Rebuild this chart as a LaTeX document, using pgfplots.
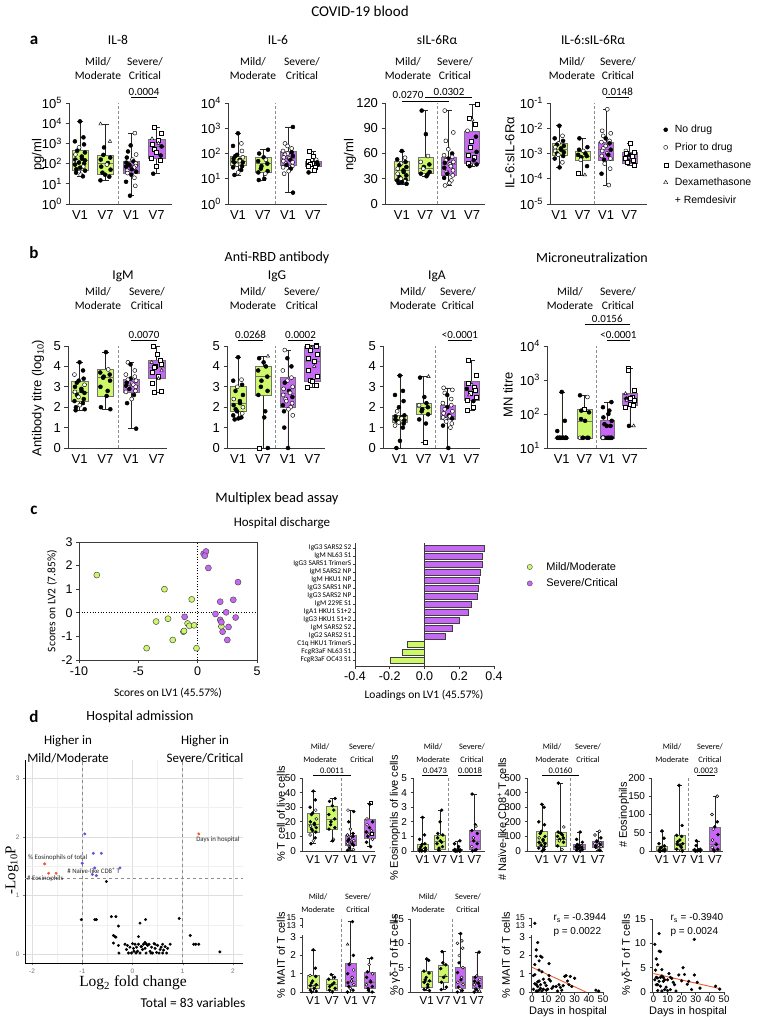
\documentclass[border=0pt]{standalone}
\usepackage{pgfplots}
\pgfplotsset{compat=1.18}
\usepgfplotslibrary{statistics}
\usepackage{fontspec}
\setmainfont{Liberation Sans}
\newfontfamily\cb{Carlito}
\newfontfamily\tm{Liberation Serif}
\newcommand{\fs}[1]{\fontsize{#1}{#1}\selectfont}
\definecolor{gr}{HTML}{CCF86A}
\definecolor{pu}{HTML}{C768F5}
\definecolor{vb}{HTML}{6A4FD6}
\definecolor{vo}{HTML}{F4592A}
\definecolor{ax}{HTML}{3A3A3A}
\def\be{0.64}\def\jit{0.2}\def\ms{2pt}
\pgfplotsset{
 pts/.style={scatter, only marks, scatter src=explicit symbolic, mark size=\ms, line width=0.45pt,
   scatter/classes={f={mark=*,draw=black,fill=black}, o={mark=*,draw=black,fill=white},
   s={mark=square*,draw=black,fill=white}, t={mark=triangle*,draw=black,fill=white}}},
 bxa/.style={scale only axis, anchor=south west, clip=false, boxplot/draw direction=y,
   boxplot/every whisker/.style={draw=black!85}, boxplot/every median/.style={draw=black!55},
   xtick={1,2,3,4}, xticklabels={V1,V7,V1,V7},
   axis x line*=bottom, axis y line*=left,
   axis line style={ax, line width=0.8pt}, tick style={ax, line width=0.8pt},
   xtick style={draw=none},
   tick align=outside, major tick length=3.5pt,
   tick label style={font=\fs{13}}, /pgf/number format/assume math mode=true},
 dax/.style={bxa, x tick label style={font=\fs{11.5}, yshift=1pt}, y tick label style={font=\fs{10}}, major tick length=2.5pt},
}
\newcommand{\bxx}[7]{\addplot[fill=#7, draw=black!55, line width=0.5pt, boxplot prepared={draw position=#1, lower whisker=#2, lower quartile=#3, median=#4, upper quartile=#5, upper whisker=#6, box extend=\be, whisker extend=0.25}] coordinates {};}
\newcommand{\sepl}{\draw[black!45, densely dashed, line width=0.5pt] ({axis cs:2.5,0}|-{rel axis cs:0,0}) -- ({axis cs:2.5,0}|-{rel axis cs:0,1});}
\newcommand{\pts}[1]{\addplot[pts] table[row sep=\\, meta=c, y=y, x expr={\thisrow{p}+\jit*sin(\coordindex*137.5)}]{p y c\\ #1\\};}
\newcommand{\hdr}[5]{\node[font=\cb\fs{#5}] at (#1,#3) {Mild/};\node[font=\cb\fs{#5}] at (#2,#3) {Severe/};\node[font=\cb\fs{#5}] at (#1,#4) {Moderate};\node[font=\cb\fs{#5}] at (#2,#4) {Critical};}
\newcommand{\pv}[5]{\draw[line width=0.9pt] (#1,#3)--(#2,#3);\node[font=\cb\fs{#5}, anchor=base, inner sep=0pt] at ({(#1+#2)/2},{#3-2}) {#4};}
\begin{document}
\begin{tikzpicture}
\useasboundingbox (0,0) rectangle (758pt,-1020pt);
%================ a ================
\begin{axis}[bxa, at={(69pt,-204pt)}, width=103pt, height=101pt, xmin=0.57, xmax=4.6, ymin=0, ymax=5, ytick={0,1,2,3,4,5},
 yticklabels={10\textsuperscript{0},10\textsuperscript{1},10\textsuperscript{2},10\textsuperscript{3},10\textsuperscript{4},10\textsuperscript{5}}]
\sepl
\bxx{1}{1.37}{1.65}{2.16}{2.64}{4.09}{gr}
\bxx{2}{1.17}{1.45}{2.03}{2.43}{3.96}{gr}
\bxx{3}{0.41}{1.53}{1.91}{2.11}{3.51}{pu}
\bxx{4}{1.5}{2.28}{2.85}{3.23}{3.8}{pu}
\pts{1 4.09 f\\1 3.3 f\\1 3.1 f\\1 2.95 f\\1 2.8 o\\1 2.64 f\\1 2.55 f\\1 2.45 o\\1 2.35 f\\1 2.25 f\\1 2.2 f\\1 2.16 f\\1 2.1 o\\1 2.05 f\\1 2.0 f\\1 1.95 f\\1 1.85 o\\1 1.8 f\\1 1.72 f\\1 1.65 f\\1 1.55 f\\1 1.45 o\\1 1.37 f\\
2 3.96 t\\2 3.1 t\\2 2.8 f\\2 2.43 f\\2 2.3 f\\2 2.2 f\\2 2.03 f\\2 1.95 o\\2 1.85 f\\2 1.7 f\\2 1.55 f\\2 1.45 f\\2 1.35 f\\2 1.17 f\\
3 3.51 o\\3 2.9 f\\3 2.6 f\\3 2.45 o\\3 2.3 f\\3 2.2 o\\3 2.11 f\\3 2.05 f\\3 2.0 o\\3 1.95 f\\3 1.91 f\\3 1.88 o\\3 1.85 f\\3 1.8 o\\3 1.72 f\\3 1.65 o\\3 1.6 f\\3 1.53 o\\3 1.45 f\\3 1.3 o\\3 1.1 f\\3 0.9 o\\3 0.41 f\\
4 3.8 s\\4 3.5 s\\4 3.23 t\\4 3.15 s\\4 3.0 t\\4 2.95 s\\4 2.85 f\\4 2.7 s\\4 2.55 s\\4 2.4 f\\4 2.28 s\\4 2.15 s\\4 1.85 s\\4 1.5 f}
\end{axis}
\begin{axis}[bxa, at={(228pt,-204pt)}, width=99pt, height=101pt, xmin=0.6, xmax=4.56, ymin=0, ymax=4, ytick={0,1,2,3,4},
 yticklabels={10\textsuperscript{0},10\textsuperscript{1},10\textsuperscript{2},10\textsuperscript{3},10\textsuperscript{4}}]
\sepl
\bxx{1}{1.15}{1.55}{1.7}{1.9}{2.8}{gr}
\bxx{2}{0.95}{1.25}{1.6}{1.85}{2.15}{gr}
\bxx{3}{0.45}{1.55}{1.8}{2.1}{3.05}{pu}
\bxx{4}{1.25}{1.5}{1.6}{1.7}{2.08}{pu}
\pts{1 2.8 f\\1 2.4 o\\1 2.3 f\\1 2.1 o\\1 1.95 f\\1 1.9 f\\1 1.85 o\\1 1.8 f\\1 1.75 f\\1 1.7 o\\1 1.68 f\\1 1.65 f\\1 1.6 f\\1 1.55 o\\1 1.5 f\\1 1.45 f\\1 1.35 f\\1 1.25 o\\1 1.15 f\\
2 2.15 f\\2 2.0 f\\2 1.85 f\\2 1.75 o\\2 1.7 f\\2 1.6 f\\2 1.5 f\\2 1.4 f\\2 1.3 f\\2 1.25 f\\2 1.2 o\\2 1.0 f\\2 0.95 f\\
3 3.05 f\\3 2.4 o\\3 2.3 o\\3 2.2 o\\3 2.1 o\\3 2.05 f\\3 2.0 o\\3 1.95 o\\3 1.9 f\\3 1.85 o\\3 1.8 o\\3 1.75 f\\3 1.7 o\\3 1.65 o\\3 1.6 o\\3 1.55 f\\3 1.5 o\\3 1.45 o\\3 1.4 f\\3 1.3 o\\3 1.2 o\\3 0.45 f\\
4 2.08 s\\4 1.9 s\\4 1.75 o\\4 1.7 s\\4 1.65 f\\4 1.6 s\\4 1.58 s\\4 1.55 f\\4 1.5 s\\4 1.45 s\\4 1.35 s\\4 1.25 f}
\end{axis}
\begin{axis}[bxa, at={(385pt,-204pt)}, width=100pt, height=101pt, xmin=0.28, xmax=4.55, ymin=0, ymax=120, ytick={0,30,60,90,120}]
\sepl
\bxx{1}{24}{28}{40}{51}{63}{gr}
\bxx{2}{33}{37}{42}{56}{111}{gr}
\bxx{3}{22}{34}{47}{56}{111}{pu}
\bxx{4}{45}{48}{61}{87}{118}{pu}
\pts{1 63 f\\1 55 o\\1 53 f\\1 50 f\\1 48 o\\1 46 f\\1 44 f\\1 42 o\\1 40 f\\1 38 f\\1 36 o\\1 34 f\\1 32 f\\1 30 o\\1 29 f\\1 28 f\\1 27 o\\1 26 f\\1 25 f\\1 24 f\\
2 111 f\\2 83 f\\2 57 o\\2 50 o\\2 47 f\\2 44 f\\2 42 o\\2 38 f\\2 36 f\\2 35 f\\2 33 f\\
3 111 o\\3 85 o\\3 75 o\\3 65 o\\3 60 f\\3 58 o\\3 56 o\\3 54 f\\3 52 o\\3 50 o\\3 49 f\\3 47 o\\3 45 o\\3 43 f\\3 40 o\\3 38 o\\3 36 f\\3 34 o\\3 31 f\\3 28 o\\3 25 o\\3 22 o\\
4 118 s\\4 102 s\\4 100 t\\4 95 s\\4 87 o\\4 80 f\\4 75 s\\4 68 s\\4 62 f\\4 58 s\\4 55 s\\4 52 f\\4 49 s\\4 47 f\\4 45 f}
\end{axis}
\begin{axis}[bxa, at={(550pt,-204pt)}, width=97pt, height=101pt, xmin=0.6, xmax=4.75, ymin=-5, ymax=-1, ytick={-5,-4,-3,-2,-1},
 yticklabels={10\textsuperscript{-5},10\textsuperscript{-4},10\textsuperscript{-3},10\textsuperscript{-2},10\textsuperscript{-1}}]
\sepl
\bxx{1}{-3.55}{-3.05}{-2.85}{-2.6}{-1.9}{gr}
\bxx{2}{-3.85}{-3.25}{-3.1}{-2.9}{-2.4}{gr}
\bxx{3}{-4.25}{-3.25}{-2.85}{-2.55}{-1.25}{pu}
\bxx{4}{-3.45}{-3.4}{-3.2}{-2.95}{-2.6}{pu}
\pts{1 -1.9 f\\1 -2.3 o\\1 -2.4 f\\1 -2.5 f\\1 -2.6 o\\1 -2.65 f\\1 -2.7 f\\1 -2.75 o\\1 -2.8 f\\1 -2.85 f\\1 -2.9 o\\1 -2.95 f\\1 -3.0 f\\1 -3.05 o\\1 -3.1 f\\1 -3.2 f\\1 -3.35 o\\1 -3.55 f\\
2 -2.4 f\\2 -2.75 f\\2 -2.85 f\\2 -2.9 o\\2 -3.0 f\\2 -3.05 f\\2 -3.1 f\\2 -3.15 f\\2 -3.25 o\\2 -3.5 f\\2 -3.8 s\\2 -3.85 t\\
3 -1.25 o\\3 -2.1 o\\3 -2.2 o\\3 -2.3 o\\3 -2.4 f\\3 -2.5 o\\3 -2.55 o\\3 -2.6 f\\3 -2.7 o\\3 -2.8 o\\3 -2.85 f\\3 -2.9 o\\3 -3.0 o\\3 -3.05 f\\3 -3.1 o\\3 -3.2 o\\3 -3.25 f\\3 -3.4 o\\3 -3.6 o\\3 -3.8 f\\3 -4.25 o\\
4 -2.6 s\\4 -2.9 o\\4 -2.95 s\\4 -3.0 s\\4 -3.05 f\\4 -3.1 s\\4 -3.2 s\\4 -3.25 s\\4 -3.3 f\\4 -3.35 s\\4 -3.45 s}
\end{axis}
% legend a
\begin{axis}[hide axis, scale only axis, width=1pt, height=1pt, at={(663pt,-123pt)}, anchor=north west, xmin=0, xmax=1, ymin=0, ymax=1,
 legend style={at={(0,1)}, anchor=north west, draw=none, fill=none, font=\fs{10.5}, cells={anchor=west}, row sep=4.5pt, inner sep=0pt, column sep=5pt},
 legend image code/.code={\draw[#1] plot coordinates {(2.5pt,0pt)};}]
\addlegendimage{only marks, mark=*, mark size=2pt, draw=black, fill=black}
\addlegendentry{No drug}
\addlegendimage{only marks, mark=*, mark size=2pt, draw=black, fill=white}
\addlegendentry{Prior to drug}
\addlegendimage{only marks, mark=square*, mark size=2pt, draw=black, fill=white}
\addlegendentry{Dexamethasone}
\addlegendimage{only marks, mark=triangle*, mark size=2.4pt, draw=black, fill=white}
\addlegendentry{Dexamethasone}
\addlegendimage{empty legend}
\addlegendentry{+ Remdesivir}
\end{axis}
%================ b ================
\begin{axis}[bxa, at={(68pt,-448pt)}, width=99pt, height=102pt, xmin=0.55, xmax=4.4, ymin=0, ymax=5, ytick={0,1,2,3,4,5}]
\sepl
\bxx{1}{1.85}{2.3}{2.75}{3.25}{4.2}{gr}
\bxx{2}{1.9}{2.55}{3.45}{3.85}{4.7}{gr}
\bxx{3}{0.95}{2.75}{3.1}{3.35}{4.2}{pu}
\bxx{4}{2.75}{3.4}{3.95}{4.3}{5.0}{pu}
\pts{1 4.2 f\\1 3.8 f\\1 3.6 o\\1 3.4 f\\1 3.3 f\\1 3.2 f\\1 3.1 o\\1 3.0 f\\1 2.9 f\\1 2.8 f\\1 2.75 o\\1 2.7 f\\1 2.6 f\\1 2.5 o\\1 2.4 f\\1 2.3 f\\1 2.2 f\\1 2.1 o\\1 2.0 f\\1 1.9 f\\1 1.85 f\\
2 4.7 f\\2 3.85 o\\2 3.7 f\\2 3.6 f\\2 3.5 f\\2 3.45 f\\2 3.3 f\\2 3.0 f\\2 2.8 f\\2 2.55 f\\2 2.0 f\\2 1.9 f\\
3 4.2 o\\3 4.1 f\\3 3.8 o\\3 3.6 o\\3 3.5 o\\3 3.4 f\\3 3.35 o\\3 3.3 o\\3 3.2 f\\3 3.15 o\\3 3.1 o\\3 3.05 f\\3 3.0 o\\3 2.95 o\\3 2.9 f\\3 2.8 o\\3 2.75 o\\3 2.6 f\\3 2.4 o\\3 2.2 f\\3 0.95 f\\
4 5.0 s\\4 4.6 s\\4 4.3 s\\4 4.2 t\\4 4.1 s\\4 4.0 s\\4 3.95 s\\4 3.8 t\\4 3.7 s\\4 3.5 s\\4 3.4 t\\4 3.2 s\\4 2.8 s\\4 2.75 s}
\end{axis}
\begin{axis}[bxa, at={(227pt,-448pt)}, width=98pt, height=102pt, xmin=0.55, xmax=4.5, ymin=0, ymax=5, ytick={0,1,2,3,4,5}]
\sepl
\bxx{1}{1.4}{1.8}{2.2}{3.05}{4.45}{gr}
\bxx{2}{0}{2.6}{3.5}{4.0}{4.5}{gr}
\bxx{3}{0}{2.0}{2.7}{3.45}{4.8}{pu}
\bxx{4}{3.0}{3.25}{4.25}{5.0}{5.05}{pu}
\pts{1 4.45 f\\1 3.35 o\\1 3.3 f\\1 3.1 f\\1 3.0 o\\1 2.8 f\\1 2.6 f\\1 2.4 o\\1 2.3 f\\1 2.2 f\\1 2.1 f\\1 2.0 o\\1 1.9 f\\1 1.8 f\\1 1.7 o\\1 1.6 f\\1 1.5 f\\1 1.45 f\\1 1.4 f\\
2 4.5 t\\2 4.4 f\\2 4.2 f\\2 4.0 f\\2 3.8 f\\2 3.5 f\\2 3.3 f\\2 3.0 f\\2 2.8 f\\2 2.6 f\\2 1.8 f\\2 1.5 f\\2 0 s\\2 0 f\\
3 4.8 o\\3 4.4 f\\3 4.0 f\\3 3.8 o\\3 3.45 o\\3 3.3 o\\3 3.2 f\\3 3.0 o\\3 2.9 o\\3 2.8 f\\3 2.7 o\\3 2.6 o\\3 2.5 f\\3 2.4 o\\3 2.3 o\\3 2.2 o\\3 2.1 f\\3 2.0 o\\3 1.9 o\\3 1.8 f\\3 1.6 o\\3 1.0 f\\3 0 f\\
4 5.05 s\\4 5.0 s\\4 5.0 s\\4 4.9 t\\4 4.8 s\\4 4.6 s\\4 4.4 s\\4 4.25 s\\4 4.0 t\\4 3.8 s\\4 3.5 s\\4 3.3 s\\4 3.25 s\\4 3.1 s\\4 3.0 s}
\end{axis}
\begin{axis}[bxa, at={(383pt,-448pt)}, width=97pt, height=102pt, xmin=0.3, xmax=4.35, ymin=0, ymax=5, ytick={0,1,2,3,4,5}]
\sepl
\bxx{1}{0}{1.25}{1.4}{1.6}{3.55}{gr}
\bxx{2}{0.3}{1.65}{2.0}{2.2}{3.5}{gr}
\bxx{3}{0}{1.4}{1.55}{2.1}{2.95}{pu}
\bxx{4}{1.85}{2.35}{2.85}{3.25}{4.3}{pu}
\pts{1 3.55 f\\1 2.8 f\\1 2.6 f\\1 2.3 f\\1 2.0 f\\1 1.8 o\\1 1.6 f\\1 1.55 f\\1 1.5 f\\1 1.45 o\\1 1.4 f\\1 1.35 f\\1 1.3 f\\1 1.25 o\\1 1.2 f\\1 1.1 o\\1 1.0 f\\1 0.35 f\\1 0 f\\
2 3.5 t\\2 3.45 f\\2 2.5 f\\2 2.2 f\\2 2.1 o\\2 2.0 f\\2 1.9 f\\2 1.8 f\\2 1.65 f\\2 1.4 f\\2 1.2 f\\2 0.3 s\\
3 2.95 o\\3 2.85 o\\3 2.7 o\\3 2.6 f\\3 2.4 o\\3 2.2 o\\3 2.1 o\\3 2.0 f\\3 1.9 o\\3 1.8 o\\3 1.7 o\\3 1.6 f\\3 1.55 o\\3 1.5 o\\3 1.45 f\\3 1.4 o\\3 1.3 o\\3 1.2 o\\3 1.1 f\\3 1.0 o\\3 0 f\\
4 4.3 s\\4 3.55 s\\4 3.2 s\\4 3.1 t\\4 3.0 s\\4 2.9 f\\4 2.85 s\\4 2.7 s\\4 2.6 t\\4 2.5 s\\4 2.35 s\\4 2.3 f\\4 2.0 s\\4 1.85 s}
\end{axis}
\begin{axis}[bxa, at={(547pt,-448pt)}, width=100pt, height=102pt, xmin=0.35, xmax=4.75, ymin=1, ymax=4, ytick={1,2,3,4},
 yticklabels={10\textsuperscript{1},10\textsuperscript{2},10\textsuperscript{3},10\textsuperscript{4}}]
\sepl
\bxx{1}{1.3}{1.3}{1.3}{1.3}{2.65}{gr}
\bxx{2}{1.3}{1.3}{1.8}{2.15}{2.55}{gr}
\bxx{3}{1.3}{1.3}{1.3}{1.82}{2.35}{pu}
\bxx{4}{1.65}{2.25}{2.45}{2.6}{3.35}{pu}
\pts{1 2.65 f\\1 1.8 f\\1 1.5 f\\1 1.3 f\\1 1.3 f\\1 1.3 f\\1 1.3 f\\1 1.3 f\\1 1.3 f\\1 1.3 f\\1 1.3 f\\1 1.3 f\\1 1.3 f\\1 1.3 f\\1 1.3 f\\
2 2.55 f\\2 2.5 o\\2 2.15 s\\2 2.1 f\\2 2.05 f\\2 1.85 f\\2 1.8 f\\2 1.3 f\\2 1.3 o\\2 1.3 f\\2 1.3 f\\2 1.3 f\\
3 2.35 f\\3 2.2 f\\3 2.1 f\\3 2.0 f\\3 1.9 f\\3 1.8 f\\3 1.7 f\\3 1.65 f\\3 1.65 f\\3 1.3 f\\3 1.3 o\\3 1.3 f\\3 1.3 f\\3 1.3 o\\3 1.3 f\\3 1.3 f\\3 1.3 f\\3 1.3 o\\3 1.3 f\\
4 3.35 s\\4 3.3 s\\4 2.7 s\\4 2.6 t\\4 2.5 s\\4 2.45 s\\4 2.45 f\\4 2.4 s\\4 2.4 t\\4 2.3 s\\4 2.25 s\\4 2.2 s\\4 1.65 t\\4 1.65 f}
\end{axis}
%================ c ================
\begin{axis}[scale only axis, anchor=south west, at={(79pt,-660pt)}, width=178pt, height=118pt, xmin=-10, xmax=5, ymin=-2, ymax=3,
 xtick={-10,-5,0,5}, ytick={-2,-1,0,1,2,3}, tick pos=left, tick align=outside, major tick length=3pt,
 axis line style={ax, line width=0.7pt}, tick style={ax, line width=0.7pt},
 tick label style={font=\fs{12.5}}, /pgf/number format/assume math mode=true, clip=false]
\draw[black, dotted, line width=0.7pt] ({axis cs:0,0}|-{rel axis cs:0,0}) -- ({axis cs:0,0}|-{rel axis cs:0,1});
\draw[black, dotted, line width=0.7pt] ({rel axis cs:0,0}|-{axis cs:0,0}) -- ({rel axis cs:1,0}|-{axis cs:0,0});
\addplot[only marks, mark=*, mark size=3pt, draw=black!70, fill=gr, line width=0.5pt] coordinates {(-8.5,1.6) (-2.8,1.0) (-0.5,0.57) (-3.5,-0.37) (-2.5,-0.25) (-0.85,-0.45) (-0.7,-0.55) (-0.3,-0.53) (-1.2,-0.8) (-1.15,-0.77) (-2.1,-1.15) (-4.3,-1.5) (-0.1,-1.5) (2.0,-0.58)};
\addplot[only marks, mark=*, mark size=3pt, draw=black!70, fill=pu, line width=0.5pt] coordinates {(0.5,2.5) (0.7,2.6) (0.6,2.42) (0.9,1.9) (3.4,1.3) (1.9,0.47) (3.0,0.55) (1.5,-0.05) (2.4,0.02) (-1.1,-0.17) (1.9,-0.3) (2.0,-0.4) (3.2,-0.2) (2.6,-0.6) (2.1,-0.8) (2.5,-1.15)};
\end{axis}
\begin{axis}[scale only axis, anchor=south west, at={(355pt,-666pt)}, width=139pt, height=123pt, xmin=-0.4, xmax=0.4, ymin=0.375, ymax=15.75, y dir=reverse,
 axis x line*=bottom, axis y line*=left, axis line style={ax, line width=0.7pt}, tick style={ax, line width=0.6pt},
 tick align=outside, major tick length=2.5pt, xtick={-0.4,-0.2,0,0.2,0.4}, ytick={1,...,15},
 yticklabels={IgG3 SARS2 S2, IgM NL63 S1, IgG3 SARS1 TrimerS, IgM SARS2 NP, IgM HKU1 NP, IgG3 SARS1 NP, IgG3 SARS2 NP, IgM 229E S1, IgA1 HKU1 S1+2, IgG3 HKU1 S1+2, IgM SARS2 S2, IgG2 SARS2 S1, C1q HKU1 TrimerS, FcgR3aF NL63 S1, FcgR3aF OC43 S1},
 y tick label style={font=\cb\fs{7.3}, inner sep=1pt}, x tick label style={font=\fs{12.5}, /pgf/number format/.cd, fixed, fixed zerofill, precision=1},
 /pgf/number format/assume math mode=true, clip=false]
\addplot[xbar, bar shift=0pt, bar width=6pt, fill=pu, draw=black!75, line width=0.5pt] coordinates {(0.345,1) (0.33,2) (0.33,3) (0.32,4) (0.315,5) (0.31,6) (0.305,7) (0.27,8) (0.25,9) (0.20,10) (0.16,11) (0.12,12)};
\addplot[xbar, bar shift=0pt, bar width=6pt, fill=gr, draw=black!75, line width=0.5pt] coordinates {(-0.10,13) (-0.13,14) (-0.20,15)};
\draw[ax, line width=0.7pt] ({axis cs:0,1}|-{rel axis cs:0,0}) -- ({axis cs:0,1}|-{rel axis cs:0,1});
\end{axis}
\begin{axis}[hide axis, scale only axis, width=1pt, height=1pt, at={(527pt,-560pt)}, anchor=north west, xmin=0, xmax=1, ymin=0, ymax=1,
 legend style={at={(0,1)}, anchor=north west, draw=none, fill=none, font=\fs{11}, cells={anchor=west}, row sep=3pt, inner sep=0pt, column sep=12pt},
 legend image code/.code={\draw[#1] plot coordinates {(3pt,0pt)};}]
\addlegendimage{only marks, mark=*, mark size=2.6pt, draw=black!70, fill=gr}
\addlegendentry{Mild/Moderate}
\addlegendimage{only marks, mark=*, mark size=2.6pt, draw=black!70, fill=pu}
\addlegendentry{Severe/Critical}
\end{axis}
%================ d volcano ================
\begin{axis}[scale only axis, anchor=south west, at={(25pt,-963pt)}, width=218pt, height=203pt, xmin=-2.14, xmax=2.2, ymin=-0.15, ymax=3.31, clip=false,
 axis x line*=bottom, axis y line*=left, axis line style={black, line width=0.6pt},
 xtick={-2,-1,0,1,2}, ytick={0,1,2,3}, minor xtick={-1.5,-0.5,0.5,1.5}, minor ytick={0.5,1.5,2.5},
 grid=both, major grid style={black!13, line width=0.5pt}, minor grid style={black!6, line width=0.4pt},
 tick label style={font=\fs{6.5}, text=black!55}, tick align=outside, major tick length=2pt, minor tick length=0pt, tick style={black!50},
 /pgf/number format/assume math mode=true]
\draw[black!45, dashed, line width=0.5pt] ({axis cs:-1,0}|-{rel axis cs:0,0}) -- ({axis cs:-1,0}|-{rel axis cs:0,1});
\draw[black!45, dashed, line width=0.5pt] ({axis cs:1,0}|-{rel axis cs:0,0}) -- ({axis cs:1,0}|-{rel axis cs:0,1});
\draw[black!45, dashed, line width=0.5pt] ({rel axis cs:0,0}|-{axis cs:0,1.3}) -- ({rel axis cs:1,0}|-{axis cs:0,1.3});
\addplot[only marks, mark=*, mark size=1.3pt, black] coordinates {(-0.52,1.24) (-1.02,0.59) (-0.75,0.59) (-0.72,0.59) (-0.42,0.64) (-0.33,0.64) (-0.28,0.48) (0.15,0.53) (0.26,0.59) (0.93,0.61) (1.15,0.32) (1.22,0.17) (1.26,0.17) (1.32,0.17) (1.74,0.04) (-0.38,0.32) (-0.33,0.29) (-0.35,0.3) (-0.38,0.19) (-0.28,0.15) (-0.27,0.02) (0.12,0.3)
(-0.15,0.17) (-0.1,0.15) (-0.05,0.12) (0,0.18) (0.02,0.1) (0.05,0.17) (0.08,0.12) (0.1,0.05) (0.12,0.17) (0.15,0.02) (0.18,0.13) (0.2,0.08) (0.22,0.17) (0.25,0.1) (0.27,0.02) (0.3,0.15) (0.33,0.17) (0.35,0.05) (0.38,0.12) (0.4,0.02) (0.43,0.18) (0.45,0.1) (0.48,0.03) (0.5,0.15) (0.53,0.02) (0.57,0.12) (0.6,0.17) (0.62,0.07) (0.65,0.13) (0.68,0.02) (0.75,0.17) (-0.02,0.02) (-0.08,0.02) (0.03,0.05) (-0.12,0.08) (0.07,0.02) (0.17,0.13) (0.28,0.17) (0.37,0.02) (0.45,0.17) (0.55,0.08) (0.6,0.02) (0.25,0.2) (0.7,0.1)};
\addplot[only marks, mark=*, mark size=1.3pt, vb] coordinates {(-0.95,2.05) (-0.78,1.72) (-0.62,1.72) (-1.0,1.55) (-0.75,1.47) (-0.25,1.47) (-0.8,1.36) (-0.72,1.34)};
\addplot[only marks, mark=*, mark size=1.3pt, vo] coordinates {(-1.75,1.54) (-1.67,1.38) (-1.52,1.38) (1.32,2.05)};
\node[font=\cb\fs{6.8}, anchor=west, inner sep=0pt, text=black!85] at (axis cs:-2.08,1.65) {\% Eosinophils of total};
\node[font=\cb\fs{6.8}, anchor=west, inner sep=0pt, text=black!85] at (axis cs:-1.30,1.43) {\# Naïve-like CD8\textsuperscript{+} T};
\node[font=\cb\fs{6.8}, anchor=west, inner sep=0pt, text=black!85] at (axis cs:-2.10,1.29) {\# Eosinophils};
\node[font=\cb\fs{6.8}, inner sep=0pt, text=black!85] at (axis cs:1.70,1.96) {Days in hospital};
\end{axis}
%================ d boxplots ================
\def\be{0.6}\def\jit{0.17}\def\ms{1.5pt}
\begin{axis}[dax, at={(302pt,-851pt)}, width=73pt, height=73pt, xmin=0.4, xmax=4.3, ymin=0, ymax=50, ytick={0,10,20,30,40,50}]
\sepl
\bxx{1}{5}{13}{18}{26}{41}{gr}
\bxx{2}{7}{15}{22}{31}{36}{gr}
\bxx{3}{0.5}{4}{7}{11}{28}{pu}
\bxx{4}{3}{9}{13}{22}{33}{pu}
\pts{1 41 f\\1 35 f\\1 30 f\\1 28 o\\1 26 f\\1 25 f\\1 22 o\\1 20 f\\1 19 f\\1 18 f\\1 17 o\\1 16 f\\1 15 f\\1 14 f\\1 13 f\\1 11 o\\1 9 f\\1 7 o\\1 5 f\\
2 36 f\\2 34 f\\2 31 f\\2 28 f\\2 25 f\\2 22 f\\2 20 f\\2 18 f\\2 16 f\\2 15 f\\2 8 o\\2 7 f\\
3 28 o\\3 27 f\\3 20 f\\3 15 o\\3 12 f\\3 11 o\\3 10 f\\3 9 o\\3 8 f\\3 7 o\\3 7 f\\3 6 o\\3 5 f\\3 5 o\\3 4 f\\3 3 o\\3 2 f\\3 1 o\\3 0.5 f\\
4 33 s\\4 32 f\\4 22 o\\4 20 f\\4 18 o\\4 16 f\\4 14 o\\4 13 f\\4 12 s\\4 11 o\\4 10 f\\4 8 o\\4 6 f\\4 3 f}
\end{axis}
\begin{axis}[dax, at={(413pt,-851pt)}, width=72pt, height=73pt, xmin=0.45, xmax=4.6, ymin=0, ymax=5, ytick={0,1,2,3,4,5}]
\sepl
\bxx{1}{0}{0}{0.1}{0.45}{2.3}{gr}
\bxx{2}{0}{0.1}{0.7}{1.1}{2.8}{gr}
\bxx{3}{0}{0}{0.05}{0.12}{0.7}{pu}
\bxx{4}{0}{0.1}{0.7}{1.4}{3.9}{pu}
\pts{1 2.3 f\\1 1.1 f\\1 0.8 f\\1 0.5 f\\1 0.45 f\\1 0.3 f\\1 0.2 f\\1 0.15 f\\1 0.1 f\\1 0.1 o\\1 0.05 f\\1 0.05 f\\1 0.02 f\\1 0 f\\1 0 f\\1 0 f\\
2 2.8 f\\2 2.0 f\\2 1.2 f\\2 1.1 f\\2 0.9 f\\2 0.7 f\\2 0.6 f\\2 0.5 f\\2 0.3 f\\2 0.2 f\\2 0.05 f\\
3 0.7 f\\3 0.5 f\\3 0.3 f\\3 0.12 f\\3 0.1 f\\3 0.08 f\\3 0.05 f\\3 0.05 o\\3 0.03 f\\3 0.02 f\\3 0 f\\3 0 f\\3 0 f\\3 0 f\\
4 3.9 f\\4 1.8 f\\4 1.7 o\\4 1.4 f\\4 1.2 f\\4 0.9 o\\4 0.7 f\\4 0.5 f\\4 0.3 o\\4 0.1 f\\4 0.05 f\\4 0 f}
\end{axis}
\begin{axis}[dax, at={(527pt,-851pt)}, width=76pt, height=73pt, xmin=0.2, xmax=4.27, ymin=0, ymax=500, ytick={0,100,200,300,400,500}]
\sepl
\bxx{1}{0}{30}{60}{135}{320}{gr}
\bxx{2}{0}{35}{80}{130}{465}{gr}
\bxx{3}{0}{10}{25}{45}{130}{pu}
\bxx{4}{5}{25}{45}{65}{135}{pu}
\pts{1 320 f\\1 300 f\\1 200 f\\1 180 f\\1 135 f\\1 120 f\\1 100 f\\1 90 o\\1 80 f\\1 70 f\\1 60 f\\1 50 f\\1 45 o\\1 40 f\\1 30 f\\1 20 f\\1 10 f\\1 0 f\\
2 465 f\\2 165 o\\2 130 f\\2 120 f\\2 110 f\\2 100 f\\2 90 f\\2 80 f\\2 70 o\\2 60 f\\2 35 f\\2 10 o\\
3 130 f\\3 80 f\\3 60 f\\3 45 f\\3 40 f\\3 35 o\\3 30 f\\3 25 f\\3 20 f\\3 15 f\\3 10 f\\3 5 f\\3 0 f\\
4 135 o\\4 110 o\\4 90 f\\4 70 o\\4 65 f\\4 55 o\\4 50 o\\4 45 f\\4 40 o\\4 35 f\\4 30 o\\4 25 f\\4 20 o\\4 5 f}
\end{axis}
\begin{axis}[dax, at={(651pt,-851pt)}, width=72pt, height=73pt, xmin=0.38, xmax=4.45, ymin=0, ymax=200, ytick={0,50,100,150,200}]
\sepl
\bxx{1}{0}{0}{3}{14}{55}{gr}
\bxx{2}{0}{5}{20}{43}{180}{gr}
\bxx{3}{0}{0}{1}{5}{28}{pu}
\bxx{4}{0}{3}{18}{66}{150}{pu}
\pts{1 55 f\\1 35 f\\1 20 f\\1 14 f\\1 10 f\\1 8 f\\1 5 f\\1 3 f\\1 2 f\\1 1 f\\1 0 f\\1 0 f\\1 0 f\\
2 180 f\\2 70 f\\2 43 f\\2 40 f\\2 30 f\\2 25 f\\2 20 f\\2 18 f\\2 15 f\\2 10 f\\2 5 f\\2 0 f\\
3 28 f\\3 15 f\\3 5 f\\3 4 f\\3 3 f\\3 2 f\\3 1 f\\3 0 f\\3 0 f\\3 0 f\\
4 150 o\\4 100 o\\4 80 f\\4 66 f\\4 60 o\\4 45 f\\4 30 o\\4 20 t\\4 18 f\\4 10 o\\4 5 f\\4 3 f\\4 0 f}
\end{axis}
\begin{axis}[dax, at={(302pt,-992pt)}, width=73pt, height=74pt, xmin=0.4, xmax=4.3, ymin=0, ymax=4.04, ytick={0,1,2,3,3.65,4.04},
 yticklabels={0,1,2,3,{\fs{8.5}13},{\fs{8.5}15}}]
\sepl
\bxx{1}{0}{0.2}{0.35}{0.9}{2.3}{gr}
\bxx{2}{0}{0.1}{0.4}{0.7}{0.95}{gr}
\bxx{3}{0}{0.3}{0.6}{1.55}{3.845}{pu}
\bxx{4}{0}{0.2}{0.55}{1.1}{1.85}{pu}
\pts{1 2.3 f\\1 1.3 f\\1 0.9 o\\1 0.85 f\\1 0.6 f\\1 0.5 f\\1 0.4 f\\1 0.35 f\\1 0.3 o\\1 0.2 f\\1 0.1 f\\1 0.05 f\\1 0 f\\
2 0.95 f\\2 0.8 f\\2 0.7 f\\2 0.5 f\\2 0.4 f\\2 0.3 f\\2 0.2 f\\2 0.1 f\\2 0 f\\
3 3.845 f\\3 2.6 t\\3 2.0 f\\3 1.55 o\\3 1.5 f\\3 1.2 o\\3 1.0 f\\3 0.8 o\\3 0.6 o\\3 0.5 f\\3 0.4 o\\3 0.3 f\\3 0.2 o\\3 0.1 f\\3 0 f\\
4 1.85 f\\4 1.5 o\\4 1.1 f\\4 1.0 o\\4 0.8 f\\4 0.6 o\\4 0.55 f\\4 0.4 o\\4 0.3 f\\4 0.2 f\\4 0.1 f\\4 0 f}
\end{axis}
\begin{axis}[dax, at={(410pt,-992pt)}, width=72pt, height=73pt, xmin=0.0, xmax=4.3, ymin=0, ymax=15, ytick={0,5,10,15}]
\sepl
\bxx{1}{0.3}{1}{2.3}{4.3}{6.8}{gr}
\bxx{2}{0.5}{2}{3.3}{5.6}{8.3}{gr}
\bxx{3}{0}{0.7}{2}{5}{12}{pu}
\bxx{4}{0}{0.7}{1.8}{3.3}{8.2}{pu}
\pts{1 6.8 f\\1 6.5 f\\1 4.3 f\\1 3.9 f\\1 3.0 f\\1 2.5 f\\1 2.3 f\\1 2.0 f\\1 1.5 f\\1 1.0 f\\1 0.5 f\\1 0.3 f\\
2 8.3 f\\2 6.0 f\\2 5.6 f\\2 4.8 f\\2 3.3 t\\2 3.0 f\\2 2.0 f\\2 1.0 f\\2 0.5 f\\
3 12 f\\3 10.5 o\\3 10 o\\3 9 o\\3 7.5 o\\3 6 f\\3 5 o\\3 4 f\\3 3 o\\3 2.5 f\\3 2 o\\3 1.5 o\\3 1 f\\3 0.7 o\\3 0.3 f\\3 0 f\\
4 8.2 f\\4 3.3 o\\4 3.0 f\\4 2.6 o\\4 2.2 f\\4 2.0 o\\4 1.8 f\\4 1.5 o\\4 1.2 f\\4 0.7 o\\4 0.5 f\\4 0.2 o\\4 0 f}
\end{axis}
% d scatter plots
\begin{axis}[scale only axis, anchor=south west, at={(531pt,-992pt)}, width=72pt, height=74pt, xmin=-0.7, xmax=50, ymin=0, ymax=4.04, clip=false,
 axis x line*=bottom, axis y line*=left, axis line style={ax, line width=0.8pt}, tick style={ax, line width=0.8pt}, tick align=outside, major tick length=2.5pt,
 xtick={0,10,20,30,40,50}, ytick={0,1,2,3,3.65,4.04}, yticklabels={0,1,2,3,{\fs{8.5}13},{\fs{8.5}15}},
 tick label style={font=\fs{10}}, x tick label style={font=\fs{9.5}, inner sep=1pt}, /pgf/number format/assume math mode=true]
\addplot[only marks, mark=*, mark size=1.4pt, black] coordinates {(2,3.75) (2,1.5) (3,2.3) (4,2.7) (3,1.95) (5,1.7) (6,1.95) (7,1.9) (1,0.9) (2,0.95) (3,0.4) (4,0.55) (4,0.3) (5,1.2) (5,0.6) (6,0.2) (6,0.4) (7,1.1) (8,0.7) (8,0.15) (9,0.5) (10,0.35) (10,0.1) (11,0.15) (12,0.9) (12,1.55) (13,0.6) (14,0.2) (15,0.3) (17,0.3) (18,0.05) (19,0.4) (20,0.25) (21,0.1) (22,0.35) (23,0.85) (24,0.9) (25,0.6) (26,0.4) (27,0.85) (28,0.3) (30,0.75) (2,0.45) (3,0.05) (4,0.05) (1,0.15) (45,0.1) (47,0.05) (12,0.7) (7,0.05) (5,0.1)};
\addplot[no marks, color=vo, line width=0.9pt] coordinates {(0,1.35) (38,0)};
\end{axis}
\begin{axis}[scale only axis, anchor=south west, at={(652pt,-992pt)}, width=72pt, height=73pt, xmin=-1, xmax=50, ymin=0, ymax=15, clip=false,
 axis x line*=bottom, axis y line*=left, axis line style={ax, line width=0.8pt}, tick style={ax, line width=0.8pt}, tick align=outside, major tick length=2.5pt,
 xtick={0,10,20,30,40,50}, ytick={0,5,10,15},
 tick label style={font=\fs{10}}, x tick label style={font=\fs{9.5}, inner sep=1pt}, /pgf/number format/assume math mode=true]
\addplot[only marks, mark=*, mark size=1.4pt, black] coordinates {(1,9.8) (2,6.8) (1.5,4.5) (2,3) (3,2.9) (3,5.6) (4,8.4) (5,8.3) (4,12) (5,3) (6,4.6) (7,3) (5,1.2) (6,0.2) (4,2.2) (8,2.5) (9,1) (10,2.5) (11,3.8) (12,3) (13,2.8) (14,2) (8,0.5) (10,0.3) (12,0.5) (15,1.5) (16,0.2) (18,3.5) (20,2.3) (21,5) (22,3.6) (24,1.6) (25,2.2) (27,0.5) (29,10.8) (29,3.5) (31,2) (33,0.8) (44,1.2) (47,0.6) (2,1.5) (3,0.3) (1,2.5) (6,3.3) (7,2.2) (3,1.5)};
\addplot[no marks, color=vo, line width=0.9pt] coordinates {(0,3.8) (47,0.7)};
\end{axis}
%================ texts ================
\begin{scope}[x=1pt,y=-1pt]
\node[font=\cb\fs{15}] at (360,11) {COVID-19 blood};
\node[font=\cb\bfseries\fs{17}] at (34,40) {a};
\node[font=\cb\fs{13.5}] at (118,40) {IL-8};
\node[font=\cb\fs{13.5}] at (278,40) {IL-6};
\node[font=\cb\fs{13.5}] at (437,40) {sIL-6Rα};
\node[font=\cb\fs{13.5}] at (593,40) {IL-6:sIL-6Rα};
\hdr{98}{145}{62}{76}{11.5}
\hdr{253}{302}{62}{76}{11.5}
\hdr{408}{455}{62}{76}{11.5}
\hdr{572}{618}{62}{76}{11.5}
\pv{131}{157}{97}{0.0004}{11}
\draw[line width=0.9pt] (402,101)--(449,101);
\node[font=\cb\fs{11}, anchor=base, inner sep=0pt] at (408,98.5) {0.0270};
\draw[line width=0.9pt] (425,97)--(472,97);
\node[font=\cb\fs{11}, anchor=base, inner sep=0pt] at (449,95) {0.0302};
\pv{606}{629}{97}{0.0148}{11}
\node[font=\fs{13}, rotate=90] at (38,155) {pg/ml};
\node[font=\fs{13}, rotate=90] at (350,155) {ng/ml};
\node[font=\fs{13}, rotate=90] at (510,153) {IL-6:sIL-6Rα};
% b
\node[font=\cb\bfseries\fs{17}] at (34,253) {b};
\node[font=\cb\fs{14}] at (277,258) {Anti-RBD antibody};
\node[font=\cb\fs{14}] at (592,258) {Microneutralization};
\node[font=\cb\fs{13.5}] at (123,276) {IgM};
\node[font=\cb\fs{13.5}] at (277,276) {IgG};
\node[font=\cb\fs{13.5}] at (437,276) {IgA};
\hdr{98}{147}{292}{306}{11.5}
\hdr{253}{302}{292}{306}{11.5}
\hdr{413}{458}{292}{306}{11.5}
\hdr{570}{618}{292}{306}{11.5}
\pv{131}{157}{340}{0.0070}{11}
\pv{238}{263}{340}{0.0268}{11}
\pv{288}{313}{340}{0.0002}{11}
\pv{448}{472}{340}{<0.0001}{11}
\pv{584.5}{630}{324}{0.0156}{11}
\pv{607}{630}{340}{<0.0001}{11}
\node[font=\fs{13}, rotate=90] at (38,398) {Antibody titre (log\textsubscript{10})};
\node[font=\fs{13}, rotate=90] at (508,395) {MN titre};
% c
\node[font=\cb\bfseries\fs{17}] at (34,510) {c};
\node[font=\cb\fs{14.5}] at (277,499) {Multiplex bead assay};
\node[font=\cb\fs{13}] at (282,523) {Hospital discharge};
\node[font=\cb\fs{11.5}, rotate=90] at (52,601) {Scores on LV2 (7.85\%)};
\node[font=\cb\fs{11.5}] at (168,693) {Scores on LV1 (45.57\%)};
\node[font=\cb\fs{11.5}] at (424,695) {Loadings on LV1 (45.57\%)};
% d
\node[font=\cb\bfseries\fs{17}] at (34,717) {d};
\node[font=\cb\fs{14}] at (140,717) {Hospital admission};
\node[font=\cb\fs{13}] at (68,741) {Higher in};
\node[font=\cb\fs{13}] at (205,741) {Higher in};
\node[font=\cb\fs{13}] at (68,758) {Mild/Moderate};
\node[font=\cb\fs{13}] at (205,758) {Severe/Critical};
\node[font=\tm\fs{15}, rotate=90] at (12,870) {-Log\textsubscript{10}P};
\node[font=\tm\fs{15.5}] at (133,983) {Log\textsubscript{2} fold change};
\node[font=\cb\fs{13.5}] at (193,1003) {Total = 83 variables};
\hdr{320}{362}{747}{760}{8.3}
\hdr{433}{472}{747}{760}{8.3}
\hdr{552}{588}{747}{760}{8.3}
\hdr{672}{710}{747}{760}{8.3}
\pv{313}{351}{775}{0.0011}{8.5}
\pv{422}{448}{775}{0.0473}{8.5}
\pv{458}{482}{775}{0.0018}{8.5}
\pv{542}{579}{775}{0.0160}{8.5}
\pv{697}{715}{775}{0.0023}{8.5}
\hdr{318}{358}{897}{910}{8.3}
\hdr{428}{468}{897}{910}{8.3}
\node[font=\fs{11}, rotate=90] at (281,814) {\% T cell of live cells};
\node[font=\fs{11}, rotate=90] at (395,818) {\% Eosinophils of live cells};
\node[font=\fs{11}, rotate=90] at (502,819) {\# Naïve-like CD8\textsuperscript{+} T cells};
\node[font=\fs{11}, rotate=90] at (624,815) {\# Eosinophils};
\node[font=\fs{11}, rotate=90] at (281,955) {\% MAIT of T cells};
\node[font=\fs{11}, rotate=90] at (395,955) {\% γδ-T of T cells};
\node[font=\fs{11}, rotate=90] at (506,955) {\% MAIT of T cells};
\node[font=\fs{11}, rotate=90] at (627,955) {\% γδ-T of T cells};
\node[font=\fs{10}, anchor=west] at (550,918) {r\textsubscript{s} = -0.3944};
\node[font=\fs{10}, anchor=west] at (550,932) {p = 0.0022};
\node[font=\fs{10}, anchor=west] at (667,918) {r\textsubscript{s} = -0.3940};
\node[font=\fs{10}, anchor=west] at (667,932) {p = 0.0024};
\node[font=\fs{11}] at (568,1012) {Days in hospital};
\node[font=\fs{11}] at (688,1012) {Days in hospital};
\draw[white, line width=2.5pt] (302,935)--(302,927.5);
\draw[white, line width=2.5pt] (531,935)--(531,927.5);
\end{scope}
\end{tikzpicture}
\end{document}
